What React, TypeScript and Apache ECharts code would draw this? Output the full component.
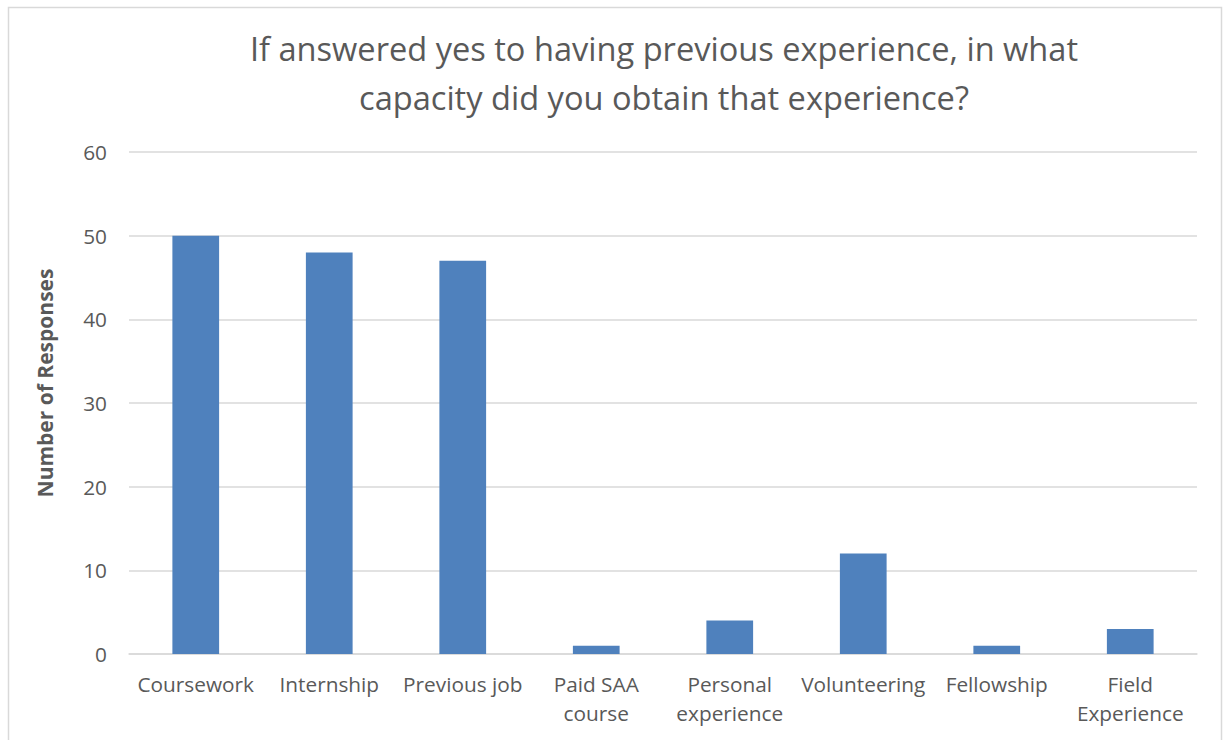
import React, { useEffect, useRef } from "react";
import * as echarts from "echarts";

const categories = [
  "Coursework",
  "Internship",
  "Previous job",
  "Paid SAA\ncourse",
  "Personal\nexperience",
  "Volunteering",
  "Fellowship",
  "Field\nExperience",
];
const responses = [50, 48, 47, 1, 4, 12, 1, 3];
const yTicks = { min: 0, max: 60, interval: 10 };
const titleText = "If answered yes to having previous experience, in what\ncapacity did you obtain that experience?";
const yAxisName = "Number of Responses";

const FONT = "'Open Sans', 'Noto Sans', sans-serif";
const TXT = "#595959";

export default function App() {
  const ref = useRef<HTMLDivElement>(null);
  useEffect(() => {
    if (!ref.current) return;
    const chart = echarts.init(ref.current, undefined, { renderer: "svg" });
    chart.setOption({
      animation: false,
      backgroundColor: "#ffffff",
      textStyle: { fontFamily: FONT },
      title: {
        text: titleText,
        left: 659,
        top: 19,
        textAlign: "center",
        textStyle: {
          fontFamily: FONT,
          fontSize: 32.6,
          fontWeight: "normal",
          color: TXT,
          lineHeight: 49,
        },
      },
      graphic: [
        {
          type: "rect",
          shape: { x: 8.5, y: 7.5, width: 1213, height: 760 },
          style: { fill: "none", stroke: "#d9d9d9", lineWidth: 1.5 },
          silent: true,
        },
      ],
      grid: { left: 129, right: 31, top: 152, bottom: 86, containLabel: false },
      xAxis: {
        type: "category",
        data: categories,
        axisLine: { show: true, lineStyle: { color: "#d9d9d9", width: 1.5 } },
        axisTick: { show: false },
        axisLabel: {
          color: TXT,
          fontSize: 20.8,
          fontFamily: FONT,
          lineHeight: 29,
          margin: 15,
          interval: 0,
        },
      },
      yAxis: {
        type: "value",
        min: yTicks.min,
        max: yTicks.max,
        interval: yTicks.interval,
        name: yAxisName,
        nameLocation: "middle",
        nameGap: 74,
        nameRotate: 90,
        nameTextStyle: {
          color: TXT,
          fontSize: 21,
          fontWeight: "bold",
          fontFamily: FONT,
          padding: [0, 0, 0, 40],
        },
        axisLine: { show: false },
        axisTick: { show: false },
        axisLabel: { color: TXT, fontSize: 20.8, fontFamily: FONT, margin: 22 },
        splitLine: { lineStyle: { color: "#d9d9d9", width: 1.5 } },
      },
      series: [
        {
          type: "bar",
          data: responses,
          barWidth: "35%",
          itemStyle: { color: "#4f81bd" },
        },
      ],
    });
    return () => chart.dispose();
  }, []);
  return (
    <div
      ref={ref}
      style={{ position: "absolute", left: 0, top: 0, width: 1228, height: 740 }}
    />
  );
}
